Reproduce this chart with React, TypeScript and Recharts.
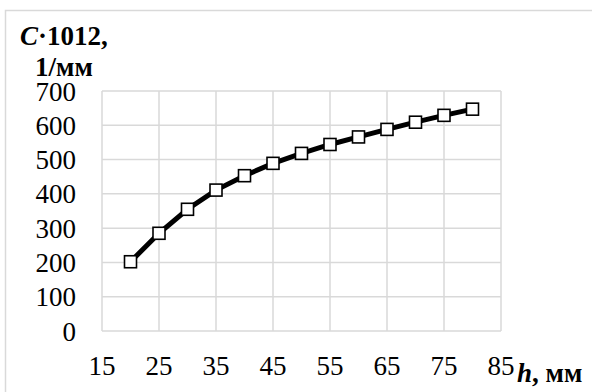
import React from "react";
import { LineChart, Line, XAxis, YAxis, CartesianGrid } from "recharts";

const hValues = [20, 25, 30, 35, 40, 45, 50, 55, 60, 65, 70, 75, 80];
const cValues = [202, 285, 355, 411, 453, 489, 518, 544, 566, 588, 609, 629, 647];
const xTicks = [15, 25, 35, 45, 55, 65, 75, 85];
const yTicks = [0, 100, 200, 300, 400, 500, 600, 700];

const data = hValues.map((h, i) => ({ h, c: cValues[i] }));

const FONT = "'Liberation Serif', 'Times New Roman', serif";

const SquareDot = (props: any) => {
  const { cx, cy, index } = props;
  if (cx == null || cy == null) return null;
  const s = 12;
  return (
    <rect
      key={`d${index}`}
      x={cx - s / 2}
      y={cy - s / 2}
      width={s}
      height={s}
      fill="#ffffff"
      stroke="#000000"
      strokeWidth={1.6}
    />
  );
};

export default function App() {
  return (
    <div style={{ position: "absolute", left: 0, top: 0, width: 592, height: 392, background: "#fff" }}>
      <LineChart
        width={592}
        height={392}
        data={data}
        margin={{ top: 91, right: 91, bottom: 31, left: 0 }}
      >
        <CartesianGrid stroke="#d9d9d9" strokeWidth={1.5} />
        <XAxis
          dataKey="h"
          type="number"
          domain={[15, 85]}
          ticks={xTicks}
          height={30}
          axisLine={false}
          tickLine={false}
          tickSize={0}
          tickMargin={25}
          interval={0}
          tick={{ fill: "#000", fontSize: 27, fontFamily: FONT }}
        />
        <YAxis
          type="number"
          domain={[0, 700]}
          ticks={yTicks}
          width={102}
          axisLine={false}
          tickLine={false}
          tickSize={0}
          tickMargin={26}
          interval={0}
          tick={{ fill: "#000", fontSize: 27, fontFamily: FONT }}
        />
        <Line
          type="linear"
          dataKey="c"
          stroke="#000000"
          strokeWidth={5}
          dot={<SquareDot />}
          isAnimationActive={false}
        />
      </LineChart>
      <svg
        width={592}
        height={392}
        style={{ position: "absolute", left: 0, top: 0, pointerEvents: "none" }}
      >
        <rect x={5.5} y={10.5} width={600} height={400} fill="none" stroke="#d9d9d9" strokeWidth={1.5} />
        <text x={20} y={45} fontFamily={FONT} fontSize={27} fontWeight="bold" fill="#000">
          <tspan fontStyle="italic">C</tspan>
          <tspan>·1012,</tspan>
        </text>
        <text x={35} y={76} fontFamily={FONT} fontSize={27} fontWeight="bold" fill="#000">
          1/мм
        </text>
        <text x={517} y={382} fontFamily={FONT} fontSize={27} fontWeight="bold" fill="#000">
          <tspan fontStyle="italic">h</tspan>
          <tspan>, мм</tspan>
        </text>
      </svg>
    </div>
  );
}
